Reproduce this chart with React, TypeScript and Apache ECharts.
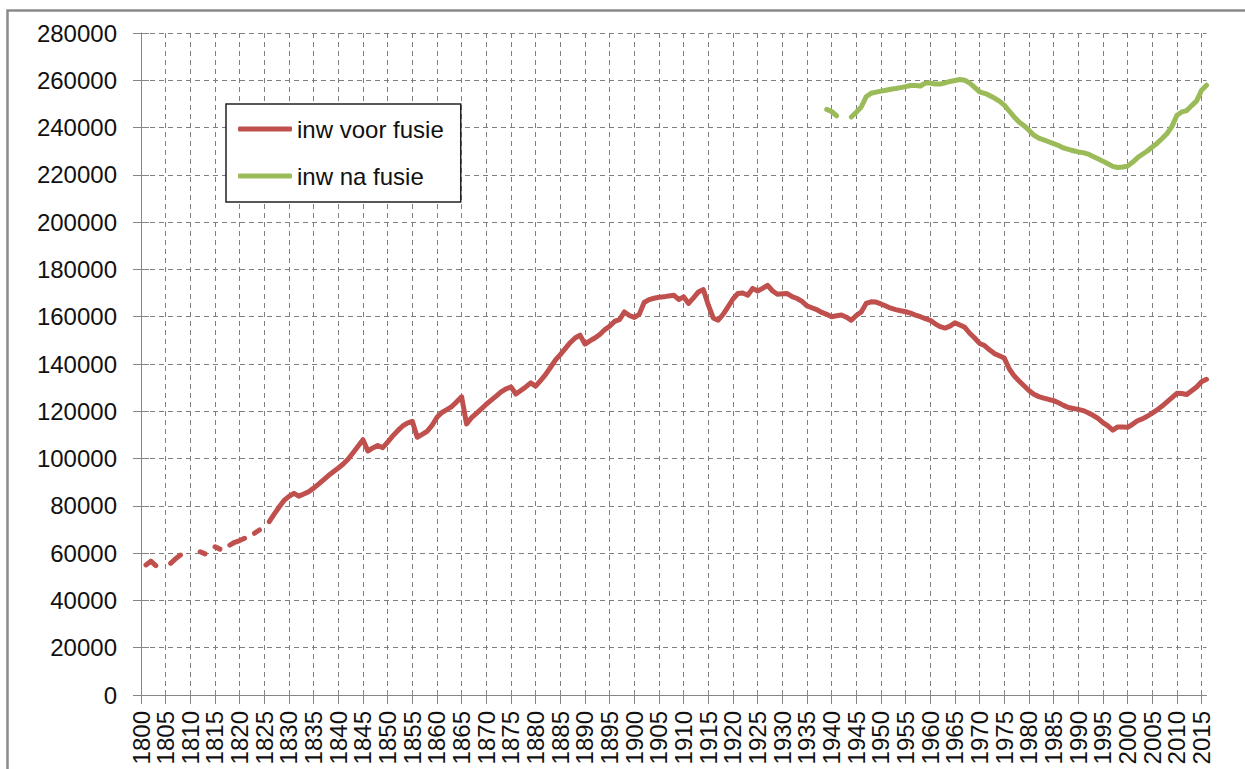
import React, { useEffect, useRef } from "react";
import * as echarts from "echarts";

const FIRST_YEAR = 1800;
const LAST_YEAR = 2016;
const years: string[] = [];
for (let y = FIRST_YEAR; y <= LAST_YEAR; y++) years.push(String(y));

const Y_MIN = 0;
const Y_MAX = 280000;
const Y_STEP = 20000;

const seriesNames = ["inw voor fusie", "inw na fusie"];
const seriesColors = ["#C0504D", "#9BBB59"];

// 1800 .. 2016, one value per year (null = no data)
const inwVoorFusie: (number | null)[] = [
  null, 55000, 56600, 54700, null, null, 55700, 57600, 59200, null,
  null, null, 60600, 59700, null, 62700, 61700, null, 63400, 64600,
  65300, 66300, null, 68400, 69800, null, 73300, 76500, 79500, 82300,
  84000, 85300, 84100, 85000, 86000, 87500, 89200, 91000, 92800, 94400,
  96000, 97700, 99800, 102500, 105200, 108000, 103200, 104500, 105500, 104600,
  107000, 109500, 111700, 113700, 115000, 115800, 109000, 110200, 111500, 114000,
  117500, 119500, 120700, 122000, 124000, 126100, 114600, 117300, 119100, 121000,
  123000, 124700, 126400, 128200, 129500, 130300, 127300, 128800, 130300, 132000,
  130600, 133000, 135500, 138500, 141600, 144000, 146500, 149000, 151000, 152200,
  148400, 149800, 151000, 152500, 154500, 156000, 158000, 158800, 162000, 160500,
  159700, 161000, 166000, 167200, 167800, 168200, 168400, 168800, 169100, 167300,
  168400, 165600, 168000, 170500, 171500, 165000, 159500, 158500, 161000, 164200,
  167500, 169800, 170000, 169100, 172000, 170900, 172000, 173300, 171000, 169500,
  169700, 169800, 168500, 167700, 166500, 164600, 163800, 163000, 161800, 161000,
  160000, 160400, 160700, 159800, 158500, 160500, 162000, 165600, 166300, 166200,
  165400, 164500, 163600, 163000, 162500, 162100, 161500, 160700, 160000, 159200,
  158500, 157000, 155800, 155200, 156000, 157400, 156500, 155500, 153000, 151000,
  148700, 147800, 146000, 144400, 143500, 142500, 138000, 135000, 132800, 130800,
  128800, 127200, 126200, 125600, 125000, 124500, 123600, 122500, 121600, 121200,
  120800, 120300, 119400, 118300, 117000, 115200, 113800, 112000, 113400, 113400,
  113200, 114500, 116000, 116800, 117900, 119200, 120600, 122200, 124000, 125800,
  127600, 127500, 127100, 128700, 130300, 132500, 133500,
];

// 1939 .. 2016
const NA_FUSIE_FROM = 1939;
const inwNaFusieValues: (number | null)[] = [
  247700, 246800, 245000, null, null, 244500, 246500, 248700, 253000, 254500, 255000,
  255400, 255800, 256200, 256500, 256900, 257300, 257800, 257800, 257600, 258800,
  258800, 258400, 258400, 258900, 259500, 259900, 260300, 260000, 258800, 257000,
  255100, 254500, 253600, 252500, 251200, 249500, 247000, 244500, 242400, 240800,
  238900, 236800, 235500, 234800, 234000, 233200, 232400, 231400, 230800, 230200,
  229700, 229400, 228800, 227800, 226800, 225800, 224700, 223600, 223100, 223300,
  223700, 225300, 227200, 228700, 230100, 231800, 233400, 235400, 237500, 240500,
  245200, 246600, 247200, 249300, 251300, 255800, 257900,
];

const inwNaFusie: (number | null)[] = (
  new Array(NA_FUSIE_FROM - FIRST_YEAR).fill(null) as (number | null)[]
).concat(inwNaFusieValues);

const FONT = "'Liberation Sans', Arial, sans-serif";
const AXIS_GRAY = "#868686";
const GRID_GRAY = "#7f7f7f";

export default function App() {
  const ref = useRef<HTMLDivElement>(null);

  useEffect(() => {
    if (!ref.current) return;
    const chart = echarts.init(ref.current, undefined, { renderer: "svg" });
    const option: any = {
      animation: false,
      backgroundColor: "#ffffff",
      textStyle: { fontFamily: FONT },
      grid: { left: 141, right: 38.5, top: 33, bottom: 74, containLabel: false },
      graphic: [
        {
          type: "rect",
          left: 5,
          top: 8,
          shape: { x: 0, y: 0, width: 1300, height: 800 },
          style: { fill: "none", stroke: "#8a8a8a", lineWidth: 2.5 },
          silent: true,
          z: 0,
        },
      ],
      legend: {
        left: 226,
        top: 104,
        orient: "vertical",
        data: seriesNames,
        icon: "roundRect",
        itemWidth: 54,
        itemHeight: 5,
        itemGap: 23,
        padding: [13, 17, 14, 12],
        backgroundColor: "#ffffff",
        borderColor: "#222",
        borderWidth: 1.5,
        textStyle: { fontFamily: FONT, fontSize: 24, lineHeight: 24, color: "#111" },
      },
      xAxis: [
        {
          type: "category",
          data: years,
          boundaryGap: false,
          position: "bottom",
          axisLine: { show: true, lineStyle: { color: AXIS_GRAY, width: 1 } },
          axisTick: { show: true, interval: 4, length: 9, lineStyle: { color: AXIS_GRAY } },
          axisLabel: {
            interval: 4,
            rotate: 90,
            margin: 16,
            fontFamily: FONT,
            fontSize: 24,
            color: "#111",
          },
          splitLine: {
            show: true,
            interval: 4,
            lineStyle: { color: GRID_GRAY, type: [5, 4], width: 1 },
          },
        },
        {
          type: "category",
          data: years,
          boundaryGap: false,
          position: "bottom",
          axisLine: { show: false },
          axisTick: { show: true, inside: true, interval: 4, length: 5, lineStyle: { color: AXIS_GRAY } },
          axisLabel: { show: false },
          splitLine: { show: false },
        },
      ],
      yAxis: [
        {
          type: "value",
          min: Y_MIN,
          max: Y_MAX,
          interval: Y_STEP,
          position: "left",
          axisLine: { show: true, lineStyle: { color: AXIS_GRAY, width: 1 } },
          axisTick: { show: true, length: 8, lineStyle: { color: AXIS_GRAY } },
          axisLabel: {
            margin: 24,
            fontFamily: FONT,
            fontSize: 24,
            color: "#111",
            formatter: (v: number) => String(v),
          },
          splitLine: {
            show: true,
            lineStyle: { color: GRID_GRAY, type: [5, 4], width: 1 },
          },
        },
        {
          type: "value",
          min: Y_MIN,
          max: Y_MAX,
          interval: Y_STEP,
          position: "left",
          axisLine: { show: false },
          axisTick: { show: true, inside: true, length: 8, lineStyle: { color: AXIS_GRAY } },
          axisLabel: { show: false },
          splitLine: { show: false },
        },
      ],
      series: [
        {
          name: seriesNames[0],
          type: "line",
          data: inwVoorFusie,
          xAxisIndex: 0,
          yAxisIndex: 0,
          showSymbol: false,
          symbol: "none",
          connectNulls: false,
          color: seriesColors[0],
          lineStyle: { color: seriesColors[0], width: 5, cap: "round", join: "round" },
          z: 3,
        },
        {
          name: seriesNames[1],
          type: "line",
          data: inwNaFusie,
          xAxisIndex: 0,
          yAxisIndex: 0,
          showSymbol: false,
          symbol: "none",
          connectNulls: false,
          color: seriesColors[1],
          lineStyle: { color: seriesColors[1], width: 5, cap: "round", join: "round" },
          z: 3,
        },
      ],
    };
    chart.setOption(option);
    return () => chart.dispose();
  }, []);

  return (
    <div
      ref={ref}
      style={{ position: "absolute", left: 0, top: 0, width: 1245, height: 769, background: "#fff" }}
    />
  );
}
